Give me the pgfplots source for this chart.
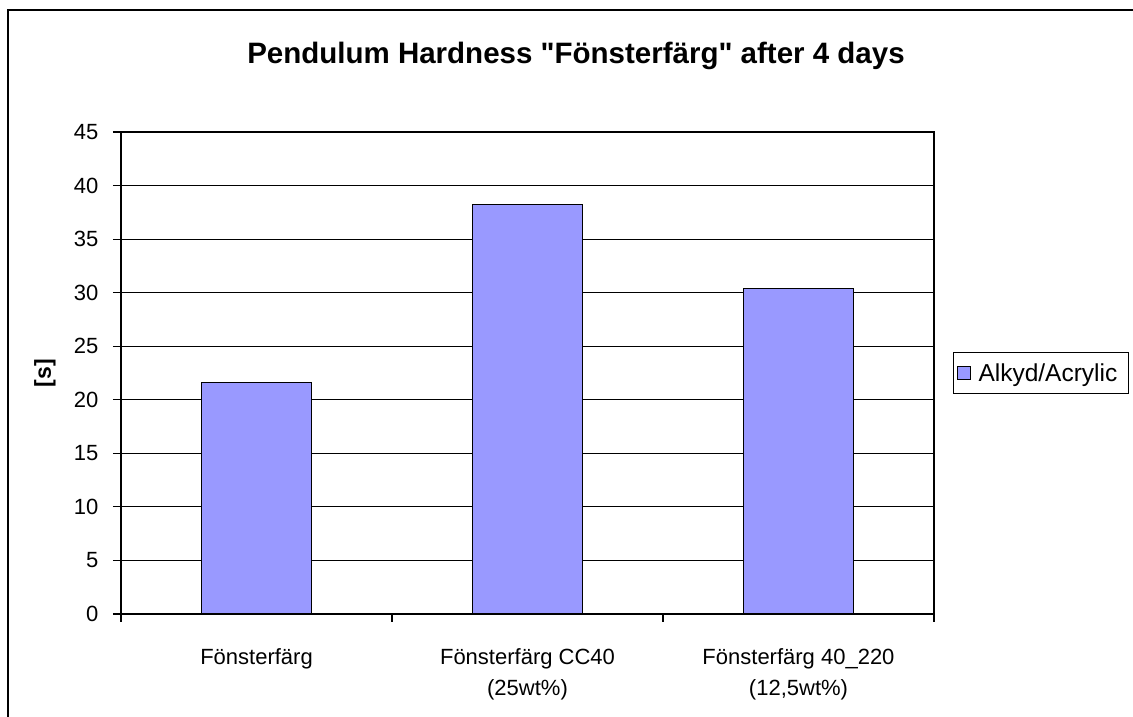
\documentclass[border=0pt]{standalone}
\usepackage{fontspec}
\setmainfont{Liberation Sans}[Ligatures=TeXOff]
\usepackage{pgfplots}
\pgfplotsset{compat=1.18}
\definecolor{barblue}{HTML}{9999FF}
\begin{document}
\begin{tikzpicture}[x=1pt,y=1pt]
  \useasboundingbox (0,0) rectangle (1133,717);
  % outer chart frame (cut at right and bottom)
  \draw[line width=2.5pt] (8,-5) -- (8,707) -- (1140,707);
  \node[font=\fontsize{29.5}{34}\selectfont\bfseries] at (576,661)
    {Pendulum Hardness "Fönsterfärg" after 4 days};
  \begin{axis}[
      at={(121pt,103pt)}, anchor=south west,
      scale only axis, width=813pt, height=482pt,
      ybar, bar width=110pt,
      xmin=-0.5, xmax=2.5, ymin=0, ymax=45,
      ytick={0,5,...,45},
      xtick={0,1,2},
      xticklabels={Fönsterfärg, {Fönsterfärg CC40\\(25wt\%)}, {Fönsterfärg 40\_220\\(12,5wt\%)}},
      minor xtick={-0.5,0.5,1.5,2.5},
      xtick pos=bottom, ytick pos=left,
      ymajorgrids, grid style={black, line width=1.2pt},
      axis line style={black, line width=1.5pt},
      tick align=outside, major tick length=8pt, minor tick length=8pt,
      tick style={black, line width=1.2pt},
      major x tick style={draw=none},
      /pgf/number format/assume math mode=true,
      tick label style={font=\fontsize{22}{31}\selectfont},
      xticklabel style={align=center, yshift=-23pt},
      yticklabel style={xshift=-11pt},
      ylabel={{[s]}},
      ylabel style={at={(axis description cs:-0.0935,0.5)}, anchor=center,
        font=\fontsize{23}{26}\selectfont\bfseries},
      legend style={at={(axis description cs:1,0.5)}, anchor=west, xshift=19pt,
        draw=black, line width=1pt, font=\fontsize{24.5}{28}\selectfont,
        inner xsep=3pt, inner ysep=9pt,
        nodes={inner xsep=8pt}},
      legend image code/.code={\draw[#1, draw=black, line width=1pt] (0pt,-6.5pt) rectangle (13pt,6.5pt);},
    ]
    \addplot[fill=barblue, draw=black, line width=1.2pt] coordinates {(0,21.6) (1,38.2) (2,30.4)};
    \addlegendentry{Alkyd/Acrylic}
  \end{axis}
\end{tikzpicture}
\end{document}
